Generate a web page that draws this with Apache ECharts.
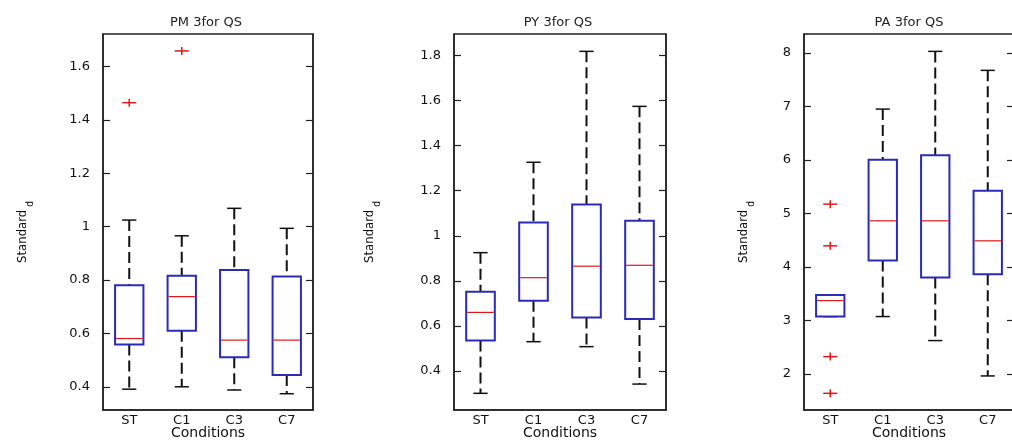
<!DOCTYPE html>
<html><head><meta charset="utf-8">
<script src="https://cdn.jsdelivr.net/npm/echarts@6/dist/echarts.min.js"></script>
<style>html,body{margin:0;padding:0;background:#fff}#c{width:1012px;height:442px}</style>
</head><body><div id="c"></div>
<script>
const categories = ['ST', 'C1', 'C3', 'C7'];
const titles = ['PM 3for QS', 'PY 3for QS', 'PA 3for QS'];
const xAxisName = 'Conditions';

// PM panel
const pmLower  = [0.391, 0.400, 0.388, 0.374];
const pmQ1     = [0.559, 0.610, 0.511, 0.444];
const pmMedian = [0.581, 0.738, 0.575, 0.575];
const pmQ3     = [0.781, 0.816, 0.838, 0.813];
const pmUpper  = [1.025, 0.966, 1.069, 0.994];
const pmOutliers = [[0, 1.465], [1, 1.659]];
const pmTicks = [0.4, 0.6, 0.8, 1, 1.2, 1.4, 1.6];

// PY panel
const pyLower  = [0.301, 0.530, 0.508, 0.342];
const pyQ1     = [0.535, 0.712, 0.637, 0.631];
const pyMedian = [0.660, 0.814, 0.865, 0.869];
const pyQ3     = [0.752, 1.059, 1.139, 1.067];
const pyUpper  = [0.925, 1.326, 1.818, 1.574];
const pyOutliers = [];
const pyTicks = [0.4, 0.6, 0.8, 1, 1.2, 1.4, 1.6, 1.8];

// PA panel
const paLower  = [3.073, 3.073, 2.624, 1.963];
const paQ1     = [3.073, 4.121, 3.802, 3.865];
const paMedian = [3.372, 4.863, 4.863, 4.489];
const paQ3     = [3.478, 6.004, 6.091, 5.424];
const paUpper  = [3.478, 6.952, 8.031, 7.676];
const paOutliers = [[0, 5.175], [0, 4.395], [0, 2.324], [0, 1.638]];
const paTicks = [2, 3, 4, 5, 6, 7, 8];

const panels = [
  {lower: pmLower, q1: pmQ1, med: pmMedian, q3: pmQ3, upper: pmUpper, out: pmOutliers, ticks: pmTicks,
   min: 0.313, max: 1.7225, left: 103, width: 210, nameGap: 68, title: 201},
  {lower: pyLower, q1: pyQ1, med: pyMedian, q3: pyQ3, upper: pyUpper, out: pyOutliers, ticks: pyTicks,
   min: 0.227, max: 1.895, left: 454, width: 212, nameGap: 72, title: 553},
  {lower: paLower, q1: paQ1, med: paMedian, q3: paQ3, upper: paUpper, out: paOutliers, ticks: paTicks,
   min: 1.326, max: 8.356, left: 804, width: 210, nameGap: 48, title: 904}
];

const BLUE = '#2b2bb8', RED = '#e01818', AX = '#222';
const FONT = 'DejaVu Sans';
const NARROW = "'DejaVu Sans Condensed', 'Liberation Sans Narrow', 'Liberation Sans', sans-serif";

function renderBox(params, api) {
  const x = api.value(0);
  const pLow = api.coord([x, api.value(1)]);
  const pQ1 = api.coord([x, api.value(2)]);
  const pMed = api.coord([x, api.value(3)]);
  const pQ3 = api.coord([x, api.value(4)]);
  const pUp = api.coord([x, api.value(5)]);
  const band = api.size([1, 0])[0];
  const bw = band * 0.54, cw = band * 0.27;
  const cx = pMed[0];
  const dash = {stroke: '#111', lineWidth: 2, lineDash: [11, 5]};
  const cap = {stroke: '#111', lineWidth: 1.5};
  return {
    type: 'group',
    children: [
      {type: 'line', shape: {x1: cx, y1: pUp[1], x2: cx, y2: pQ3[1]}, style: dash},
      {type: 'line', shape: {x1: cx, y1: pQ1[1], x2: cx, y2: pLow[1]}, style: dash},
      {type: 'line', shape: {x1: cx - cw / 2, y1: pUp[1], x2: cx + cw / 2, y2: pUp[1]}, style: cap},
      {type: 'line', shape: {x1: cx - cw / 2, y1: pLow[1], x2: cx + cw / 2, y2: pLow[1]}, style: cap},
      {type: 'rect', shape: {x: cx - bw / 2, y: pQ3[1], width: bw, height: pQ1[1] - pQ3[1]},
       style: {fill: '#fff', stroke: BLUE, lineWidth: 2}},
      {type: 'line', shape: {x1: cx - bw / 2 + 1, y1: pMed[1], x2: cx + bw / 2 - 1, y2: pMed[1]},
       style: {stroke: RED, lineWidth: 1.2}}
    ]
  };
}

function renderPlus(params, api) {
  const p = api.coord([api.value(0), api.value(1)]);
  const st = {stroke: RED, lineWidth: 1.5};
  return {
    type: 'group',
    children: [
      {type: 'line', shape: {x1: p[0] - 7, y1: p[1], x2: p[0] + 7, y2: p[1]}, style: st},
      {type: 'line', shape: {x1: p[0], y1: p[1] - 4, x2: p[0], y2: p[1] + 4}, style: st}
    ]
  };
}

const option = {
  animation: false,
  backgroundColor: '#fff',
  title: [], grid: [], xAxis: [], yAxis: [], series: []
};

panels.forEach((p, i) => {
  option.title.push({
    text: titles[i], left: p.title, top: 11, textAlign: 'center',
    textStyle: {fontFamily: FONT, fontSize: 13, fontWeight: 'normal', color: '#222'}
  });
  option.grid.push({
    left: p.left, top: 34, width: p.width, height: 376,
    outerBoundsMode: 'none', containLabel: false,
    show: true, borderColor: AX, borderWidth: 1.5, backgroundColor: 'transparent'
  });
  option.xAxis.push({
    gridIndex: i, type: 'category', data: categories,
    axisTick: {show: false},
    axisLine: {lineStyle: {color: AX, width: 1.5}},
    axisLabel: {color: '#111', fontFamily: FONT, fontSize: 13, margin: 4},
    name: xAxisName, nameLocation: 'middle', nameGap: 16, nameMoveOverlap: false,
    nameTextStyle: {color: '#111', fontFamily: FONT, fontSize: 14}
  });
  option.yAxis.push({
    gridIndex: i, type: 'value', min: p.min, max: p.max,
    splitLine: {show: false},
    axisLine: {show: true, lineStyle: {color: AX, width: 1.5}},
    axisTick: {show: true, inside: true, length: 7, customValues: p.ticks, lineStyle: {color: AX, width: 1.2}},
    axisLabel: {customValues: p.ticks, margin: 13, color: '#111', fontFamily: FONT, fontSize: 13},
    name: '{a|Standard}{b|d}', nameLocation: 'middle', nameRotate: 90, nameGap: p.nameGap,
    nameMoveOverlap: false,
    nameTextStyle: {
      padding: [0, 20, 0, 0],
      rich: {
        a: {fontFamily: NARROW, fontSize: 13, color: '#111', lineHeight: 16},
        b: {fontFamily: NARROW, fontSize: 10, color: '#111', padding: [14, 0, 0, 3]}
      }
    }
  });
  option.yAxis.push({
    gridIndex: i, type: 'value', min: p.min, max: p.max, position: 'right',
    splitLine: {show: false},
    axisLine: {show: true, lineStyle: {color: AX, width: 1.5}},
    axisTick: {show: true, inside: true, length: 7, customValues: p.ticks, lineStyle: {color: AX, width: 1.2}},
    axisLabel: {show: false}
  });
  const boxData = categories.map((c, k) => [k, p.lower[k], p.q1[k], p.med[k], p.q3[k], p.upper[k]]);
  option.series.push({
    type: 'custom', xAxisIndex: i, yAxisIndex: 2 * i,
    renderItem: renderBox, data: boxData, clip: false,
    encode: {x: 0, y: [1, 2, 3, 4, 5]}
  });
  option.series.push({
    type: 'custom', xAxisIndex: i, yAxisIndex: 2 * i,
    renderItem: renderPlus, data: p.out, encode: {x: 0, y: 1}
  });
});

const chart = echarts.init(document.getElementById('c'), null, {renderer: 'canvas'});
chart.setOption(option);
</script>
</body></html>
